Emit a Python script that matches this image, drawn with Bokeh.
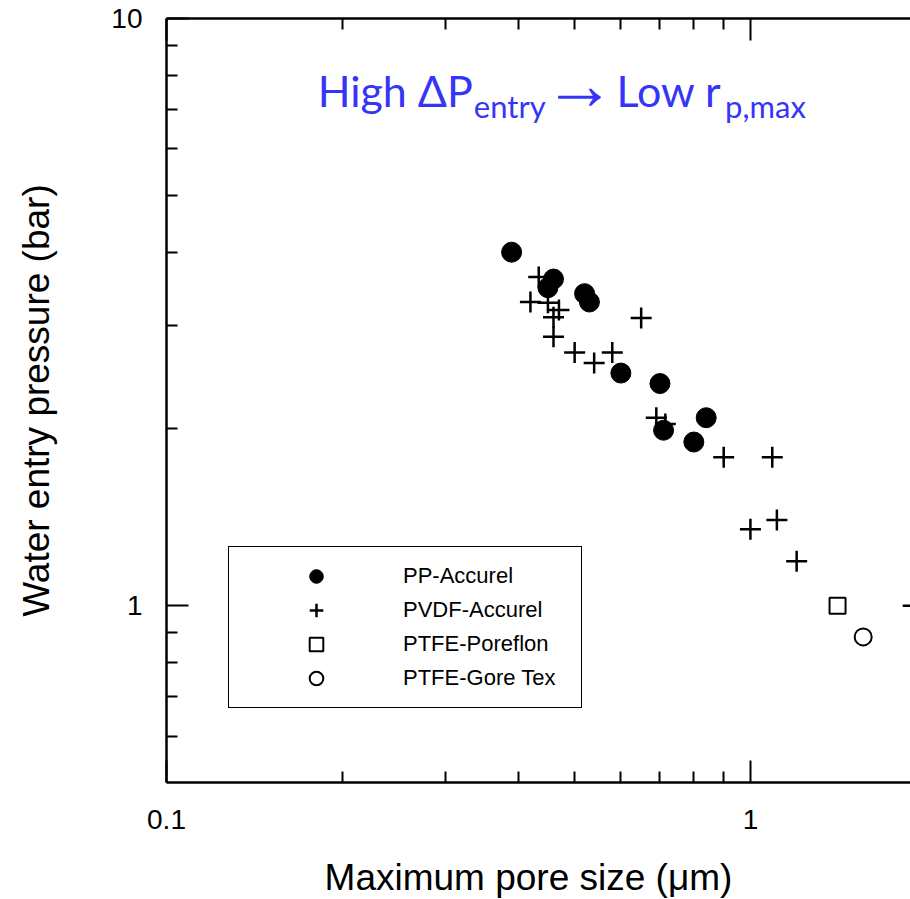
from bokeh.plotting import figure
from bokeh.models import (LogAxis, FixedTicker, NumeralTickFormatter, Range1d,
                          Legend, LegendItem, Label, CustomJSTickFormatter)
from bokeh.embed import file_html
from bokeh.resources import INLINE

# ---- data ----
pp_x = [0.39, 0.46, 0.45, 0.52, 0.53, 0.60, 0.70, 0.71, 0.84, 0.80]
pp_y = [4.0, 3.6, 3.48, 3.40, 3.29, 2.49, 2.39, 1.99, 2.09, 1.90]

pvdf_x = [0.434, 0.42, 0.45, 0.47, 0.46, 0.46, 0.50, 0.54, 0.58, 0.65,
          0.69, 0.715, 0.90, 1.09, 1.0, 1.11, 1.2, 1.9]
pvdf_y = [3.63, 3.29, 3.28, 3.19, 3.10, 2.87, 2.70, 2.59, 2.70, 3.09,
          2.09, 2.04, 1.79, 1.79, 1.35, 1.40, 1.19, 1.0]

poreflon_x = [1.41]
poreflon_y = [1.0]

goretex_x = [1.56]
goretex_y = [0.885]

major_ticks = [0.1, 1, 10]
minor_x_ticks = [0.2, 0.3, 0.4, 0.5, 0.6, 0.7, 0.8, 0.9, 2, 3, 4, 5, 6, 7, 8, 9]
minor_y_ticks = [0.6, 0.7, 0.8, 0.9, 2, 3, 4, 5, 6, 7, 8, 9]

labels = ["PP-Accurel", "PVDF-Accurel", "PTFE-Poreflon", "PTFE-Gore Tex"]

x_title = "Maximum pore size (\u03bcm)"
y_title = "Water entry pressure (bar)"

FONT = "Liberation Sans"
BLUE = "#3535F8"

p = figure(width=910, height=899, x_axis_type="log", y_axis_type="log",
           x_range=Range1d(0.1, 1.88), y_range=Range1d(0.5, 10),
           output_backend="svg", toolbar_location=None,
           min_border_left=166, min_border_right=0,
           min_border_top=18, min_border_bottom=117)
p.outline_line_color = None
p.grid.visible = False
p.background_fill_color = "white"
p.border_fill_color = "white"


def style_axis(ax, minor):
    ax.ticker = FixedTicker(ticks=major_ticks, minor_ticks=minor)
    ax.axis_line_width = 2.5
    ax.axis_line_color = "black"
    ax.major_tick_in = 22
    ax.major_tick_out = 0
    ax.minor_tick_in = 11
    ax.minor_tick_out = 0
    ax.major_tick_line_width = 2
    ax.minor_tick_line_width = 2
    ax.major_tick_line_color = "black"
    ax.minor_tick_line_color = "black"
    ax.major_label_text_font = FONT
    ax.major_label_text_font_size = "28px"
    ax.major_label_text_color = "black"
    ax.axis_label_text_font = FONT
    ax.axis_label_text_font_size = "37px"
    ax.axis_label_text_font_style = "normal"
    ax.axis_label_text_color = "black"


xa = p.xaxis[0]
style_axis(xa, minor_x_ticks)
xa.formatter = NumeralTickFormatter(format="0.[0]")
xa.major_label_standoff = 27

ya = p.yaxis[0]
style_axis(ya, minor_y_ticks)
ya.formatter = NumeralTickFormatter(format="0.[0]")
ya.major_label_standoff = 24
ya.axis_label = y_title
ya.axis_label_standoff = 51

top = LogAxis()
style_axis(top, minor_x_ticks)
top.formatter = CustomJSTickFormatter(code="return ''")
top.major_label_text_font_size = "1px"
top.major_label_standoff = 0
p.add_layout(top, "above")

# x-axis title as a label in the bottom panel
p.add_layout(Label(x=362, y=-5, x_units="screen", y_units="screen",
                   text=x_title, text_font=FONT,
                   text_font_size="37px", text_color="black",
                   text_align="center", text_baseline="alphabetic"), "below")

# ---- glyphs ----
r_pvdf = p.scatter(pvdf_x, pvdf_y, marker="cross", size=21, line_color="black",
                   line_width=2.5)
r_pp = p.scatter(pp_x, pp_y, marker="circle", size=20, fill_color="black",
                 line_color="black")
r_pore = p.scatter(poreflon_x, poreflon_y, marker="square", size=16,
                   fill_color="white", line_color="black", line_width=2)
r_gore = p.scatter(goretex_x, goretex_y, marker="circle", size=17,
                   fill_color="white", line_color="black", line_width=2)

legend = Legend(items=[LegendItem(label=labels[0], renderers=[r_pp]),
                       LegendItem(label=labels[1], renderers=[r_pvdf]),
                       LegendItem(label=labels[2], renderers=[r_pore]),
                       LegendItem(label=labels[3], renderers=[r_gore])],
                location=(62, 74), padding=12, spacing=0,
                glyph_width=150, glyph_height=34, label_height=34,
                label_width=166, label_standoff=12,
                label_text_font=FONT, label_text_font_size="22px",
                label_text_color="black",
                border_line_color="black", border_line_width=1,
                border_line_alpha=1.0,
                background_fill_color="white", background_fill_alpha=1.0,
                margin=0)
p.add_layout(legend)

# ---- annotation text ----
big = "43px"
small = "31px"
p.add_layout(Label(x=0.1815, y=6.82, text="High \u0394P", text_font="Lato",
                   text_font_size=big, text_color=BLUE,
                   text_baseline="bottom"))
p.add_layout(Label(x=0.336, y=6.59, text="entry", text_font="Lato",
                   text_font_size=small, text_color=BLUE,
                   text_baseline="bottom"))
p.add_layout(Label(x=0.442, y=6.62, text="\u2192", text_font="Liberation Sans",
                   text_font_size="72px", text_color=BLUE,
                   text_baseline="bottom"))
p.add_layout(Label(x=0.5896, y=6.82, text="Low r", text_font="Lato",
                   text_font_size=big, text_color=BLUE,
                   text_baseline="bottom"))
p.add_layout(Label(x=0.905, y=6.59, text="p,max", text_font="Lato",
                   text_font_size=small, text_color=BLUE,
                   text_baseline="bottom"))

open("out.html", "w").write(file_html(p, INLINE))
